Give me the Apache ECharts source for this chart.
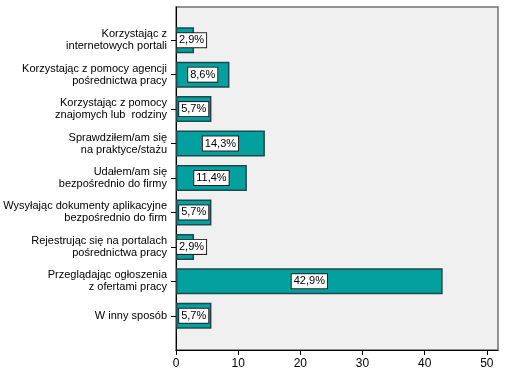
<!DOCTYPE html>
<html>
<head>
<meta charset="utf-8">
<script src="https://cdn.jsdelivr.net/npm/echarts@6/dist/echarts.min.js"></script>
<style>html,body{margin:0;padding:0;background:#fff}#c{width:511px;height:375px}</style>
</head>
<body>
<div id="c"></div>
<script>
const categories = [
  'Korzystając z\ninternetowych portali',
  'Korzystając z pomocy agencji\npośrednictwa pracy',
  'Korzystając z pomocy\nznajomych lub  rodziny',
  'Sprawdziłem/am się\nna praktyce/stażu',
  'Udałem/am się\nbezpośrednio do firmy',
  'Wysyłając dokumenty aplikacyjne\nbezpośrednio do firm',
  'Rejestrując się na portalach\npośrednictwa pracy',
  'Przeglądając ogłoszenia\nz ofertami pracy',
  'W inny sposób'
];
const values = [2.9, 8.6, 5.7, 14.3, 11.4, 5.7, 2.9, 42.9, 5.7];
const xTicks = [0, 10, 20, 30, 40, 50];
const xMax = 51.8;

const FONT = 'Liberation Sans, Arial, sans-serif';
const chart = echarts.init(document.getElementById('c'));
const data = values.map(v => ({
  value: v,
  label: { position: v < 4 ? 'insideLeft' : 'inside', distance: 1 }
}));

chart.setOption({
  animation: false,
  grid: [
    { left: 176, top: 7, right: 13, bottom: 25, show: true, backgroundColor: '#f0f0f0', borderColor: '#707070', borderWidth: 1.5 },
    { left: 176, top: 23, right: 13, bottom: 42 }
  ],
  xAxis: [
    {
      gridIndex: 0, type: 'value', min: 0, max: xMax,
      axisLine: { show: true, onZero: false, lineStyle: { color: '#000', width: 1 } },
      axisTick: { show: true, length: 5, customValues: xTicks, lineStyle: { color: '#000' } },
      axisLabel: { customValues: xTicks, color: '#000', fontSize: 12, fontFamily: FONT, margin: 8 },
      splitLine: { show: false }
    },
    { gridIndex: 1, type: 'value', min: 0, max: xMax, show: false }
  ],
  yAxis: [
    {
      gridIndex: 0, type: 'value', min: 0, max: 1,
      axisLine: { show: true, lineStyle: { color: '#000', width: 1 } },
      axisTick: { show: false }, axisLabel: { show: false }, splitLine: { show: false }
    },
    {
      gridIndex: 1, type: 'category', data: categories, inverse: true,
      axisLine: { show: false },
      axisTick: { show: true, alignWithLabel: true, length: 5, lineStyle: { color: '#000' } },
      axisLabel: { color: '#000', fontSize: 11, fontFamily: FONT, margin: 9, lineHeight: 12, align: 'right' }
    }
  ],
  series: [{
    type: 'bar', xAxisIndex: 1, yAxisIndex: 1, data: data, barWidth: 26,
    itemStyle: { color: '#03a0a0', borderColor: '#1d4a4a', borderWidth: 1.5 },
    label: {
      show: true, color: '#000', fontSize: 11, fontFamily: FONT,
      backgroundColor: '#fff', borderColor: '#222', borderWidth: 1, padding: [2, 2, 1, 2],
      formatter: p => p.value.toFixed(1).replace('.', ',') + '%'
    }
  }]
});
</script>
</body>
</html>
